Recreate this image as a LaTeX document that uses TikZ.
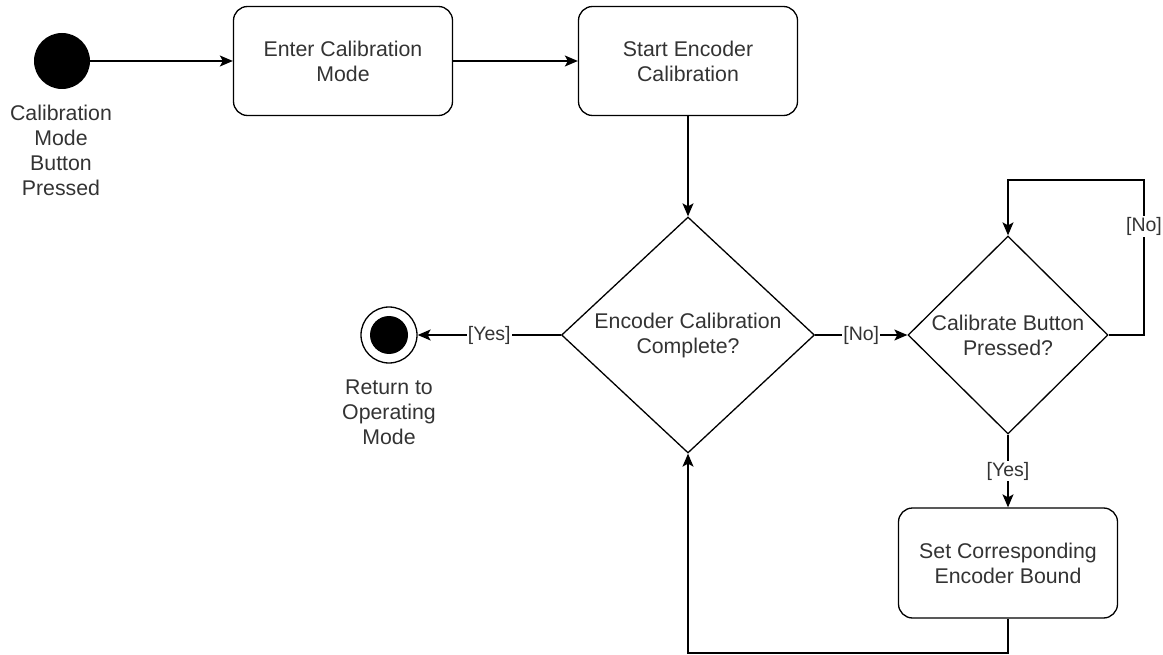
\documentclass[tikz,border=0pt]{standalone}
\usepackage{fontspec}
\setmainfont{Liberation Sans}
\usetikzlibrary{shapes.geometric,arrows.meta}
\definecolor{txt}{HTML}{333333}
\begin{document}
\begin{tikzpicture}[x=1pt,y=-1pt,
  every node/.style={font=\fontsize{21.3}{25}\selectfont, text=txt, align=center},
  box/.style={draw, line width=1.3pt, rounded corners=14pt, minimum width=219pt, minimum height=109pt, inner sep=0pt},
  dia/.style={draw, diamond, line width=1.3pt, inner sep=0pt},
  arr/.style={draw, line width=1.3pt, -{Stealth[length=13pt,width=11pt,inset=3pt]}},
  lbl/.style={fill=white, inner sep=1pt, font=\fontsize{19.5}{22}\selectfont}
]
\useasboundingbox (0,0) rectangle (1163,655);

\node[circle, fill=black, minimum size=56pt, inner sep=0pt] (start) at (62,61) {};
\node (startlbl) at (61,150) {Calibration\\Mode\\Button\\Pressed};

\node[box] (b1) at (343,61) {Enter Calibration\\Mode};
\node[box] (b2) at (688,61) {Start Encoder\\Calibration};

\node[dia, minimum width=253pt, minimum height=236pt] (d1) at (688,335) {Encoder Calibration\\Complete?};
\node[dia, minimum width=200pt, minimum height=198pt] (d2) at (1008,335) {Calibrate Button\\Pressed?};

\node[box, minimum height=110pt] (b3) at (1008,563) {Set Corresponding\\Encoder Bound};

\node[circle, draw, line width=1.3pt, minimum size=56pt, inner sep=0pt] (end) at (389,335) {};
\fill[black] (end.center) circle (19pt);
\node (endlbl) at (389,412) {Return to\\Operating\\Mode};

\coordinate (loopR) at (1144,180);
\coordinate (loopB) at (688,653);

\draw[arr] (start) -- (b1);
\draw[arr] (b1) -- (b2);
\draw[arr] (b2) -- (d1);
\draw[arr] (d1) -- node[lbl]{[Yes]} (end);
\draw[arr] (d1) -- node[lbl]{[No]} (d2);
\draw[arr] (d2.east) -- (d2.east -| loopR) -- node[lbl, pos=0.7]{[No]} (loopR) -- (loopR -| d2.north) -- (d2.north);
\draw[arr] (d2) -- node[lbl]{[Yes]} (b3);
\draw[arr] (b3.south) -- (b3.south |- loopB) -- (loopB) -- (d1.south);
\end{tikzpicture}
\end{document}
